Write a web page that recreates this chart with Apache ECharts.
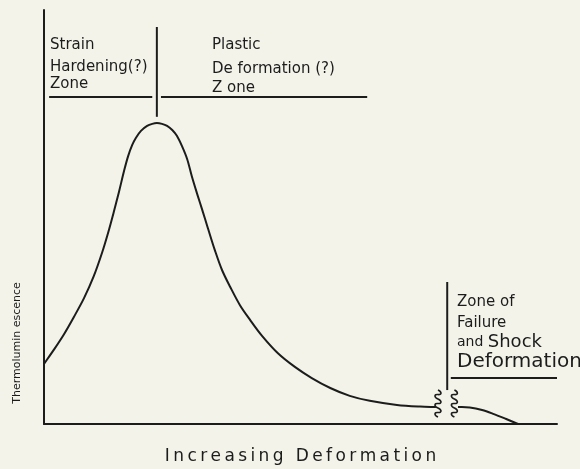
<!DOCTYPE html>
<html>
<head>
<meta charset="utf-8">
<title>Thermoluminescence vs deformation</title>
<script src="https://cdn.jsdelivr.net/npm/echarts@6/dist/echarts.min.js"></script>
<style>
    html, body { margin: 0; padding: 0; background: #f3f3ea; }
    #main { width: 580px; height: 469px; }
</style>
</head>
<body>
<div id="main"></div>
<script>
    // deformation and thermoluminescence, both on a relative 0-100 scale
    var deformA = [0, 1.9, 3.9, 5.8, 7.8, 9.7, 11.3, 12.5, 13.6, 14.6, 15.6, 16.4, 17.2, 17.9, 18.9, 20.1, 21.1, 22.0,
                   23.0, 24.0, 25.0, 25.9, 26.9, 27.9, 28.8, 29.8, 30.8, 32.0, 33.3, 34.7, 36.3, 38.2, 40.2, 42.5, 45.6,
                   48.9, 52.2, 55.8, 59.6, 63.5, 68.8, 73.3, 76.4];
    var tlA     = [14.5, 17.9, 21.7, 25.8, 30.4, 35.7, 41.3, 46.2, 51.2, 56.0, 61.1, 64.7, 67.4, 69.1, 70.8, 72.0, 72.5, 72.7,
                   72.5, 72.0, 71.0, 69.6, 67.1, 64.0, 59.9, 55.8, 51.9, 47.1, 42.0, 37.2, 33.1, 28.7, 25.1, 21.3, 17.1,
                   13.8, 11.1, 8.7, 6.8, 5.6, 4.6, 4.2, 4.1];
    // after the break
    var deformB = [80.7, 83.0, 85.4, 87.7, 90.1, 92.4];
    var tlB     = [4.1, 4.0, 3.4, 2.4, 1.2, 0];

    // zone divider lines [x1, y1, x2, y2]
    var zoneLines = [
        [22.0, 95.9, 22.0, 74.2],
        [1.0, 79.0, 21.1, 79.0],
        [22.8, 79.0, 63.0, 79.0],
        [78.6, 34.3, 78.6, 8.2],
        [79.3, 11.1, 100, 11.1]
    ];
    // break marks on the curve: x, top y, bottom y
    var breakMarks = [[76.8, 8.2, 1.7], [80.0, 8.2, 1.7]];

    var ink = '#1c1c1c';
    var font = '"DejaVu Sans", sans-serif';

    // smooth path through points (chord-length scaled tangents)
    function smoothPath(pts) {
        var n = pts.length, d = [], t = [];
        for (var i = 0; i < n - 1; i++) {
            d.push(Math.hypot(pts[i + 1][0] - pts[i][0], pts[i + 1][1] - pts[i][1]));
        }
        for (var i = 0; i < n; i++) {
            var a = pts[Math.max(i - 1, 0)], b = pts[Math.min(i + 1, n - 1)];
            var len = Math.hypot(b[0] - a[0], b[1] - a[1]) || 1;
            t.push([(b[0] - a[0]) / len, (b[1] - a[1]) / len]);
        }
        var s = 'M' + pts[0][0] + ' ' + pts[0][1];
        for (var i = 0; i < n - 1; i++) {
            var k = d[i] / 3;
            s += ' C' + (pts[i][0] + t[i][0] * k) + ' ' + (pts[i][1] + t[i][1] * k) + ' ' +
                (pts[i + 1][0] - t[i + 1][0] * k) + ' ' + (pts[i + 1][1] - t[i + 1][1] * k) + ' ' +
                pts[i + 1][0] + ' ' + pts[i + 1][1];
        }
        return s;
    }

    function curveSeries(xs, ys) {
        return {
            type: 'custom',
            data: [0],
            renderItem: function (params, api) {
                var pts = xs.map(function (x, i) { return api.coord([x, ys[i]]); });
                return {
                    type: 'path',
                    shape: { pathData: smoothPath(pts) },
                    style: { stroke: ink, lineWidth: 2, fill: null }
                };
            }
        };
    }

    var series = [curveSeries(deformA, tlA), curveSeries(deformB, tlB)];
    zoneLines.forEach(function (l) {
        series.push({
            type: 'line', data: [[l[0], l[1]], [l[2], l[3]]], symbol: 'none',
            lineStyle: { color: ink, width: 2 }
        });
    });
    series.push({
        type: 'custom',
        data: breakMarks,
        renderItem: function (params, api) {
            var top = api.coord([api.value(0), api.value(1)]);
            var bot = api.coord([api.value(0), api.value(2)]);
            var n = 3, h = (bot[1] - top[1]) / n, x = top[0];
            var d = 'M' + x + ' ' + top[1];
            for (var i = 0; i < n; i++) {
                var y0 = top[1] + i * h;
                d += ' C' + (x + 4) + ' ' + (y0 + h * 0.2) + ' ' + (x + 4) + ' ' + (y0 + h * 0.55) + ' ' + x + ' ' + (y0 + h * 0.5);
                d += ' C' + (x - 4) + ' ' + (y0 + h * 0.45) + ' ' + (x - 4) + ' ' + (y0 + h * 0.8) + ' ' + x + ' ' + (y0 + h);
            }
            return {
                type: 'path',
                shape: { pathData: d },
                style: { stroke: ink, lineWidth: 1.6, fill: null }
            };
        }
    });

    function label(text, x, y, size) {
        return {
            type: 'text', x: x, y: y,
            style: { text: text, font: size + 'px ' + font, fill: ink, verticalAlign: 'middle' }
        };
    }

    var spaced = 'Increasing Deformation'.split('').join('\u2009');

    var option = {
        backgroundColor: '#f3f3ea',
        animation: false,
        grid: { left: 44, right: 23, top: 10, bottom: 45, outerBoundsMode: 'none', containLabel: false },
        xAxis: {
            type: 'value', min: 0, max: 100,
            axisLine: { lineStyle: { color: ink, width: 2 } },
            axisTick: { show: false }, axisLabel: { show: false }, splitLine: { show: false },
            name: spaced,
            nameLocation: 'middle', nameGap: 24,
            nameTextStyle: { color: ink, fontSize: 17, fontFamily: font }
        },
        yAxis: {
            type: 'value', min: 0, max: 100,
            axisLine: { show: true, lineStyle: { color: ink, width: 2 } },
            axisTick: { show: false }, axisLabel: { show: false }, splitLine: { show: false }
        },
        graphic: [
            {
                type: 'text', x: 17, y: 343, rotation: Math.PI / 2,
                style: { text: 'Thermolumin escence', font: '11px ' + font, fill: ink, align: 'center', verticalAlign: 'middle' }
            },
            label('Strain', 50, 45, 15),
            label('Hardening(?)', 50, 67, 15),
            label('Zone', 50, 84, 15),
            label('Plastic', 212, 45, 15),
            label('De formation (?)', 212, 69, 15),
            label('Z one', 212, 88, 15),
            label('Zone of', 457, 302, 15),
            label('Failure', 457, 323, 15),
            {
                type: 'text', x: 457, y: 342,
                style: {
                    text: '{a|and }{b|Shock}', fill: ink, verticalAlign: 'middle',
                    rich: {
                        a: { fontSize: 14, fontFamily: font, fill: ink },
                        b: { fontSize: 18, fontFamily: font, fill: ink }
                    }
                }
            },
            label('Deformation', 457, 362, 20)
        ],
        series: series
    };

    var myChart = echarts.init(document.getElementById('main'));
    myChart.setOption(option);
</script>
</body>
</html>
